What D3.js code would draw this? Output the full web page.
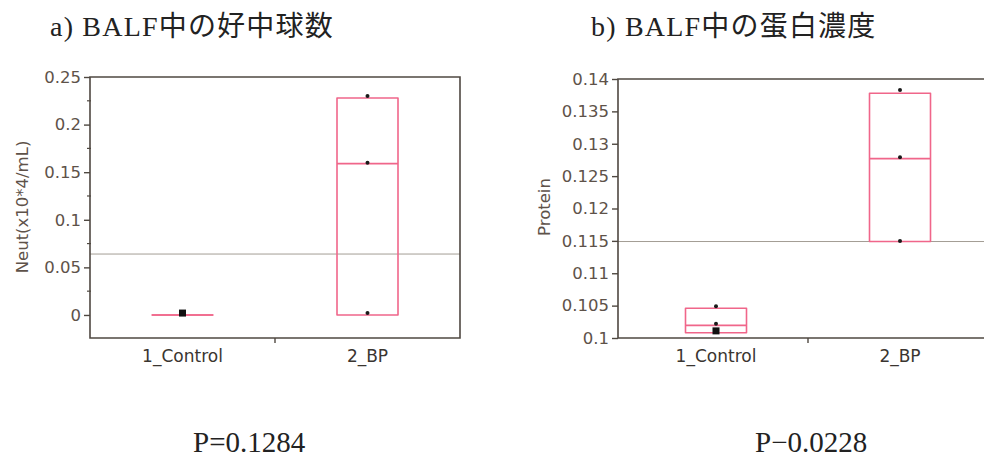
<!DOCTYPE html>
<html>
<head>
<meta charset="utf-8">
<script src="https://cdn.jsdelivr.net/npm/d3@7"></script>
<style>
  body { margin: 0; background: #fff; }
  svg { display: block; }
</style>
</head>
<body>
<div id="chart"></div>
<script>
// Groups on the x axis
var groups = ['1_Control', '2_BP'];

// a) Neutrophils
var neutQ1 = [0, 0];
var neutMed = [0, 0.159];
var neutQ3 = [0, 0.228];
var neutDots = [[], [0.230, 0.160, 0.002]];
var neutSquares = [[0.002], []];
var neutRef = 0.064;
var neutTicks = [0, 0.05, 0.1, 0.15, 0.2, 0.25];
var neutMinor = [0.025, 0.075, 0.125, 0.175, 0.225];

// b) Protein
var protQ1 = [0.1008, 0.1149];
var protMed = [0.10195, 0.1277];
var protQ3 = [0.1046, 0.1378];
var protDots = [[0.1049, 0.1022], [0.1383, 0.1279, 0.1150]];
var protSquares = [[0.1011], []];
var protRef = 0.1149;
var protTicks = [0.1, 0.105, 0.11, 0.115, 0.12, 0.125, 0.13, 0.135, 0.14];

// Titles and p values
var titles = ['a) BALF中の好中球数', 'b) BALF中の蛋白濃度'];
var pValues = ['P=0.1284', 'P\u22120.0228'];
var yTitles = ['Neut(x10*4/mL)', 'Protein'];

var width = 984, height = 458;
var axisColor = '#4f4841';
var boxColor = '#f0668a';
var labelColor = '#5e5249';

var svg = d3.select('#chart')
  .append('svg')
  .attr('width', width)
  .attr('height', height);

function drawPanel(opt) {
  var x = d3.scaleBand().domain(groups).range(opt.xRange);
  var y = d3.scaleLinear().domain(opt.yDomain).range([338, opt.yTop]);
  var g = svg.append('g');
  var left = opt.frameLeft, right = opt.frameRight;
  var top = y(opt.yDomain[1]), bottom = y(opt.yDomain[0]);

  // Reference line (grand mean)
  g.append('line')
    .attr('x1', left).attr('x2', right)
    .attr('y1', y(opt.ref)).attr('y2', y(opt.ref))
    .attr('stroke', '#a39d95')
    .attr('stroke-width', 1);

  // Boxes
  var bw = 61;
  groups.forEach(function(grp, i) {
    var cx = x(grp) + x.bandwidth() / 2;
    var x0 = cx - bw / 2, x1 = cx + bw / 2;
    g.append('path')
      .attr('d', 'M' + x0 + ',' + y(opt.q3[i]) + 'H' + x1 + 'V' + y(opt.q1[i]) + 'H' + x0 + 'Z')
      .attr('fill', 'none')
      .attr('stroke', boxColor)
      .attr('stroke-width', 1.6)
      .attr('stroke-linejoin', 'round');
    g.append('line')
      .attr('x1', x0).attr('x2', x1)
      .attr('y1', y(opt.med[i])).attr('y2', y(opt.med[i]))
      .attr('stroke', boxColor)
      .attr('stroke-width', 1.6);

    // Data points
    g.selectAll(null)
      .data(opt.dots[i])
      .enter().append('circle')
      .attr('cx', cx)
      .attr('cy', function(d) { return y(d); })
      .attr('r', 2)
      .attr('fill', '#1a1a1a');
    g.selectAll(null)
      .data(opt.squares[i])
      .enter().append('rect')
      .attr('x', cx - 3.5)
      .attr('y', function(d) { return y(d) - 3.5; })
      .attr('width', 7)
      .attr('height', 7)
      .attr('fill', '#111');
  });

  // Frame
  var frame = 'M' + right + ',' + top + 'H' + left + 'V' + bottom + 'H' + right;
  if (opt.closed) frame += 'Z';
  g.append('path')
    .attr('d', frame)
    .attr('fill', 'none')
    .attr('stroke', axisColor)
    .attr('stroke-width', 1.6);

  // Y axis ticks
  var yAxis = g.append('g')
    .attr('transform', 'translate(' + left + ',0)')
    .call(d3.axisLeft(y).tickValues(opt.ticks).tickFormat(d3.format('~g')).tickSize(6).tickPadding(3));
  yAxis.select('.domain').remove();
  yAxis.selectAll('line').attr('stroke', axisColor).attr('stroke-width', 1.4);
  yAxis.selectAll('text')
    .attr('fill', labelColor)
    .style('font-family', '"DejaVu Sans", sans-serif')
    .style('font-size', '16.5px');

  // Minor ticks
  g.selectAll(null)
    .data(opt.minor || [])
    .enter().append('line')
    .attr('x1', left - 3).attr('x2', left + 1)
    .attr('y1', function(d) { return y(d); })
    .attr('y2', function(d) { return y(d); })
    .attr('stroke', axisColor)
    .attr('stroke-width', 1.2);

  // X axis: category labels + boundary tick
  groups.forEach(function(grp) {
    g.append('text')
      .attr('x', x(grp) + x.bandwidth() / 2)
      .attr('y', 362)
      .attr('text-anchor', 'middle')
      .attr('fill', '#3a3530')
      .style('font-family', '"DejaVu Sans", sans-serif')
      .style('font-size', '17px')
      .text(grp);
  });
  var mid = x(groups[1]);
  g.append('line')
    .attr('x1', mid).attr('x2', mid)
    .attr('y1', bottom).attr('y2', bottom + 5)
    .attr('stroke', axisColor)
    .attr('stroke-width', 1.4);

  // Y title
  g.append('text')
    .attr('transform', 'translate(' + opt.yTitleX + ',207) rotate(-90)')
    .attr('text-anchor', 'middle')
    .attr('fill', labelColor)
    .style('font-family', '"DejaVu Sans", sans-serif')
    .style('font-size', '16.5px')
    .text(opt.yTitle);

  // Panel title
  g.append('text')
    .attr('x', opt.titleX)
    .attr('y', 36)
    .attr('fill', '#222')
    .style('font-family', '"Liberation Serif", "Noto Sans CJK JP", serif')
    .style('font-size', '28px')
    .style('letter-spacing', '1.2px')
    .text(opt.title);

  // P value
  g.append('text')
    .attr('x', opt.pX)
    .attr('y', 452)
    .attr('fill', '#222')
    .style('font-family', '"Liberation Serif", serif')
    .style('font-size', '29px')
    .text(opt.p);
}

drawPanel({
  xRange: [90, 460], frameLeft: 90, frameRight: 460, closed: true,
  yDomain: [-0.0242, 0.25], yTop: 77,
  q1: neutQ1, med: neutMed, q3: neutQ3, dots: neutDots, squares: neutSquares,
  ref: neutRef, ticks: neutTicks, minor: neutMinor,
  yTitle: yTitles[0], yTitleX: 28, title: titles[0], titleX: 50,
  p: pValues[0], pX: 193
});

drawPanel({
  xRange: [624, 992], frameLeft: 618, frameRight: 990, closed: false,
  yDomain: [0.1, 0.14], yTop: 79,
  q1: protQ1, med: protMed, q3: protQ3, dots: protDots, squares: protSquares,
  ref: protRef, ticks: protTicks,
  yTitle: yTitles[1], yTitleX: 550, title: titles[1], titleX: 591,
  p: pValues[1], pX: 755
});
</script>
</body>
</html>
